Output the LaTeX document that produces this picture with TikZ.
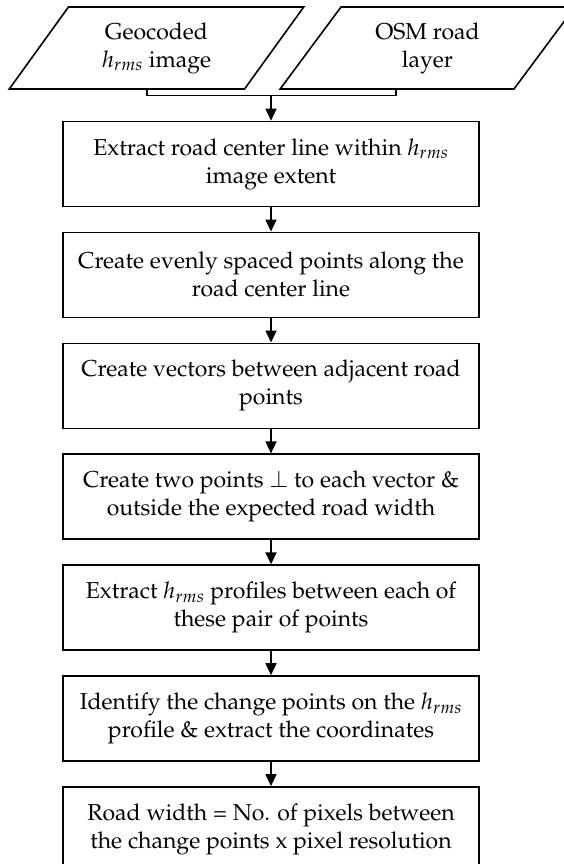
\documentclass[tikz,border=0pt]{standalone}
\usepackage[T1]{fontenc}
\usepackage{mathpazo}
\usepackage{tikz}
\usetikzlibrary{positioning,shapes.geometric,arrows.meta}

\begin{document}
\begin{tikzpicture}[x=1pt, y=1pt, node distance=24.3pt,
    every node/.style={font=\fontsize{23}{28}\selectfont},
    stepbox/.style={draw, line width=1.6pt, minimum width=416pt, minimum height=85pt, align=center, inner sep=0pt},
    inbox/.style={draw, line width=1.6pt, trapezium, trapezium left angle=54.3, trapezium right angle=125.7,
      trapezium stretches=true, minimum width=295pt, minimum height=82pt, align=center, inner sep=0pt},
    line/.style={line width=1.6pt},
    flow/.style={line width=1.6pt, -{Triangle[length=12pt, width=11pt]}}]
  \useasboundingbox (0,0) rectangle (564,-864);

  % inputs
  \node[inbox] (lpar) at (156.5,-48) {Geocoded\\$h_{rms}$ image};
  \node[inbox] (rpar) at (427.5,-48) {OSM road\\layer};

  % processing steps
  \node[stepbox] (b1) at (271,-164) {Extract road center line within $h_{rms}$\\image extent};
  \node[stepbox, below=of b1] (b2) {Create evenly spaced points along the\\road center line};
  \node[stepbox, below=of b2] (b3) {Create vectors between adjacent road\\points};
  \node[stepbox, below=of b3] (b4) {Create two points $\perp$ to each vector \&\\outside the expected road width};
  \node[stepbox, below=of b4] (b5) {Extract $h_{rms}$ profiles between each of\\these pair of points};
  \node[stepbox, below=of b5] (b6) {Identify the change points on the $h_{rms}$\\profile \& extract the coordinates};
  \node[stepbox, below=of b6] (b7) {Road width = No. of pixels between\\the change points x pixel resolution};

  \coordinate (jn) at ([yshift=25pt]b1.north);
  \draw[line] ([xshift=-124pt]jn |- lpar.south) |- ([xshift=125pt]jn) -- ([xshift=125pt]jn |- rpar.south);
  \draw[flow] (jn) -- (b1);
  \foreach \a/\b in {b1/b2, b2/b3, b3/b4, b4/b5, b5/b6, b6/b7}
    \draw[flow] (\a) -- (\b);
\end{tikzpicture}
\end{document}
